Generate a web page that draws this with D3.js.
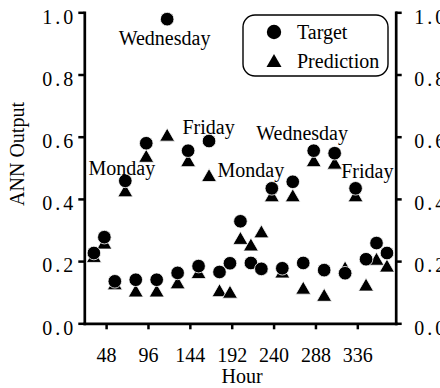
<!DOCTYPE html>
<html>
<head>
<meta charset="utf-8">
<script src="https://cdn.jsdelivr.net/npm/d3@7"></script>
<style>
  html, body { margin: 0; padding: 0; background: #fff; }
  svg { display: block; }
  text { font-family: "Liberation Serif", "Times New Roman", serif; fill: #000; }
</style>
</head>
<body>
<svg id="chart" width="440" height="388"></svg>
<script>
// Hour of each sample (12-hour spacing)
const hours = [34, 46, 58, 70, 82, 94, 106, 118, 130, 142, 154, 166, 178, 190, 202,
               214, 226, 238, 250, 262, 274, 286, 298, 310, 322, 334, 346, 358, 370];
// Target values (circles)
const target = [0.226, 0.277, 0.135, 0.458, 0.140, 0.579, 0.140, 0.978, 0.162, 0.555,
                0.184, 0.586, 0.165, 0.193, 0.328, 0.194, 0.175, 0.434, 0.177, 0.455,
                0.194, 0.555, 0.171, 0.547, 0.161, 0.434, 0.206, 0.258, 0.226];
// Network predictions (triangles)
const prediction = [0.215, 0.258, 0.127, 0.426, 0.104, 0.537, 0.104, 0.605, 0.130, 0.523,
                    0.163, 0.475, 0.105, 0.100, 0.273, 0.252, 0.294, 0.410, 0.165, 0.410,
                    0.113, 0.523, 0.090, 0.515, 0.178, 0.410, 0.123, 0.206, 0.184];

const xTicks = [48, 96, 144, 192, 240, 288, 336];
const yTicks = [0, 0.2, 0.4, 0.6, 0.8, 1.0];

// Day annotations, anchored in data coordinates
const dayNames = ["Wednesday", "Monday", "Friday", "Monday", "Wednesday", "Friday"];
const dayHours = [115, 66, 165.5, 214, 272.7, 347.5];
const dayValues = [0.894, 0.477, 0.608, 0.47, 0.589, 0.467];

const seriesNames = ["Target", "Prediction"];

const serif = "'Liberation Serif', 'Times New Roman', serif";
const svg = d3.select("#chart");
const plotLeft = 84.3, plotRight = 395.7, plotTop = 12.3, plotBottom = 323.3;

const x = d3.scaleLinear().domain([23, 380]).range([plotLeft, plotRight]);
const y = d3.scaleLinear().domain([0, 1]).range([plotBottom, plotTop]);

const triPath = "M0,-7L7.5,6L-7.5,6Z";

// Axes
function styleAxis(g) {
  g.attr("font-family", null).attr("font-size", null);
  g.select(".domain").attr("stroke", "#000").attr("stroke-width", 2.7)
    .attr("stroke-linecap", "square");
  g.selectAll(".tick line").attr("stroke", "#000").attr("stroke-width", 2.5);
  g.selectAll(".tick text").style("font-size", "20px").style("font-family", serif);
}

const fmt = d3.format(".1f");

const gLeft = svg.append("g").attr("transform", `translate(${plotLeft},0)`)
  .call(d3.axisLeft(y).tickValues(yTicks).tickFormat(fmt).tickSize(6).tickSizeOuter(0));
styleAxis(gLeft);
gLeft.selectAll(".tick text").attr("x", -8).attr("dy", 0).attr("y", 10.7)
  .attr("letter-spacing", 3);

const gRight = svg.append("g").attr("transform", `translate(${plotRight},0)`)
  .call(d3.axisRight(y).tickValues(yTicks).tickFormat(fmt).tickSize(6).tickSizeOuter(0));
styleAxis(gRight);
gRight.selectAll(".tick text").attr("x", 18.5).attr("dy", 0).attr("y", 10.7)
  .attr("letter-spacing", 3);

const gBottom = svg.append("g").attr("transform", `translate(0,${plotBottom})`)
  .call(d3.axisBottom(x).tickValues(xTicks).tickSize(6).tickSizeOuter(0));
styleAxis(gBottom);
gBottom.selectAll(".tick text").attr("dy", 0).attr("y", 39.2);

// Axis titles
svg.append("text").attr("x", (plotLeft + plotRight) / 2 + 2).attr("y", 383)
  .attr("text-anchor", "middle").attr("font-size", 20).text("Hour");
svg.append("text").attr("transform", "translate(24,154) rotate(-90)")
  .attr("text-anchor", "middle").attr("font-size", 20).text("ANN Output");

// Markers: triangles beneath, circles on top
const idx = d3.range(hours.length);
svg.append("g").selectAll("path").data(idx).join("path")
  .attr("d", triPath)
  .attr("transform", i => `translate(${x(hours[i])},${y(prediction[i])})`)
  .attr("fill", "#000").attr("stroke", "#fff").attr("stroke-width", 0.8);
svg.append("g").selectAll("circle").data(idx).join("circle")
  .attr("cx", i => x(hours[i])).attr("cy", i => y(target[i])).attr("r", 6.8)
  .attr("fill", "#000").attr("stroke", "#fff").attr("stroke-width", 0.8);

// Day annotations
svg.append("g").selectAll("text").data(dayNames).join("text")
  .attr("x", (d, i) => x(dayHours[i])).attr("y", (d, i) => y(dayValues[i]))
  .attr("text-anchor", "middle").attr("font-size", 20).text(d => d);

// Legend
const lg = svg.append("g");
lg.append("rect").attr("x", 243).attr("y", 15).attr("width", 145).attr("height", 61)
  .attr("rx", 12).attr("ry", 12).attr("fill", "#fff").attr("stroke", "#000").attr("stroke-width", 1.4);
lg.append("circle").attr("cx", 274).attr("cy", 32).attr("r", 7.2).attr("fill", "#000");
lg.append("path").attr("d", triPath).attr("transform", "translate(274,61)").attr("fill", "#000");
lg.selectAll("text.lab").data(seriesNames).join("text").attr("class", "lab")
  .attr("x", 297).attr("y", (d, i) => 38.5 + i * 29).attr("font-size", 20).text(d => d);
</script>
</body>
</html>
